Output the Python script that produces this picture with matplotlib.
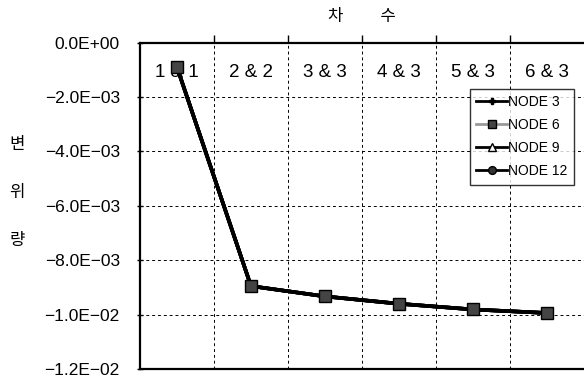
import numpy as np
import matplotlib
matplotlib.use("Agg")
import matplotlib.pyplot as plt
from matplotlib.ticker import FuncFormatter, FixedLocator
from matplotlib.transforms import blended_transform_factory

plt.rcParams['font.family'] = ['Liberation Sans', 'Noto Sans CJK KR']
plt.rcParams['axes.unicode_minus'] = True

# data
orders = ['1 & 1', '2 & 2', '3 & 3', '4 & 3', '5 & 3', '6 & 3']
node3 = [-0.00090, -0.00895, -0.00933, -0.00960, -0.00981, -0.00994]
node6 = [-0.00090, -0.00895, -0.00933, -0.00960, -0.00981, -0.00994]
node9 = [-0.00090, -0.00895, -0.00933, -0.00960, -0.00981, -0.00994]
node12 = [-0.00090, -0.00895, -0.00933, -0.00960, -0.00981, -0.00994]
yticks = [0.0, -0.002, -0.004, -0.006, -0.008, -0.010, -0.012]

fig = plt.figure(figsize=(5.84, 3.77), dpi=100)
ax = fig.add_axes([0.2397, 0.0212, 0.7603, 0.8655])

x = np.arange(len(orders))
ax.plot(x, node3, color='black', lw=2.6, marker='P', ms=6, label='NODE 3', zorder=3)
ax.plot(x, node9, color='black', lw=2.6, marker='^', ms=7, mfc='white', label='NODE 9', zorder=3)
ax.plot(x, node12, color='black', lw=2.6, marker='o', ms=7, mfc='#333333', label='NODE 12', zorder=3)
ax.plot(x, node6, color='black', lw=2.6, marker='s', ms=8, mfc='#444444', mec='black',
        label='NODE 6', zorder=4)

ax.set_xlim(-0.5, len(orders) - 0.5)
ax.set_ylim(-0.012, 0.0)


def sci(v, pos):
    if v == 0:
        return '0.0E+00'
    return ('%.1E' % v).replace('-', '\u2212')


# y axis
ax.set_yticks(yticks)
ax.yaxis.set_major_formatter(FuncFormatter(sci))
ax.tick_params(axis='y', direction='inout', length=5, width=1, pad=12, labelsize=12.5)

# x axis on top, ticks between categories
ax.xaxis.tick_top()
ax.set_xticks([])
ax.xaxis.set_minor_locator(FixedLocator(x[:-1] + 0.5))
ax.tick_params(axis='x', which='minor', direction='out', length=6, width=1, top=True)

trans = blended_transform_factory(ax.transData, ax.transAxes)
for i, lab in enumerate(orders):
    ax.text(i, 0.91, lab, transform=trans, ha='center', va='center', fontsize=13.5)

ax.grid(True, axis='y', which='major', ls=(0, (3, 3)), lw=0.7, color='black')
ax.grid(True, axis='x', which='minor', ls=(0, (3, 3)), lw=0.7, color='black')

for s in ['top', 'left', 'bottom']:
    ax.spines[s].set_linewidth(1.6)
ax.spines['right'].set_visible(False)

handles, labels = ax.get_legend_handles_labels()
order = [0, 3, 1, 2]
leg = ax.legend([handles[i] for i in order], [labels[i] for i in order],
                loc='upper right', bbox_to_anchor=(574 / 584, (377 - 89) / 377),
                bbox_transform=fig.transFigure, fontsize=10, frameon=True,
                fancybox=False, handlelength=2.2, handletextpad=0.1,
                labelspacing=0.65, borderpad=0.45, borderaxespad=0,
                markerscale=0.8)
leg.get_frame().set_edgecolor('black')
leg.get_frame().set_linewidth(1.0)
for ln in leg.get_lines():
    ln.set_linewidth(2)
leg.get_lines()[1].set_color('#999999')

fig.text(362 / 584, 1 - 17 / 377, '차        수', ha='center', va='center', fontsize=12)
fig.text(17 / 584, 1 - 192 / 377, '변\n\n위\n\n량', ha='center', va='center',
         fontsize=12, linespacing=1.75)

fig.savefig('out.png', dpi=100)
